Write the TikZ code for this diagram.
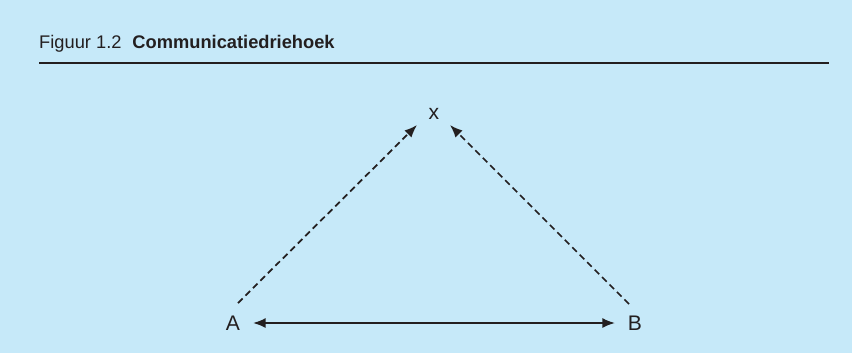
\documentclass[tikz,border=0pt]{standalone}
\usepackage{fontspec}
\setmainfont{Liberation Sans}
\usepackage{xcolor}
\usetikzlibrary{arrows.meta}
\definecolor{bgblue}{RGB}{198,233,249}
\definecolor{inkgray}{RGB}{35,31,32}
\tikzset{
    label/.style={inner sep=0pt, text=inkgray, font=\fontsize{18}{20}\selectfont},
    solidarrow/.style={inkgray, line width=1.5pt, {Latex[length=0.38cm,width=0.3cm]}-{Latex[length=0.38cm,width=0.3cm]}},
    dasharrow/.style={inkgray, line width=1.5pt, dash pattern=on 5.5pt off 3.5pt, -{Latex[length=0.38cm,width=0.3cm]}}
}

\begin{document}
\begin{tikzpicture}[x=0.03cm, y=-0.03cm]
    % Draw background
    \path[fill=bgblue] (0,0) rectangle (852,353);

    % Title and rule
    \node[anchor=base west, inner sep=0pt, text=inkgray, font=\fontsize{15.6}{17}\selectfont] (title) at (39,48.5)
        {Figuur 1.2\hspace{0.6em}\textbf{Communicatiedriehoek}};
    \draw[inkgray, line width=2.2pt] (39,63) -- (829,63);

    % Corners of the triangle
    \node[label] (x) at (434,114) {x};
    \node[label] (A) at (233,323) {A};
    \node[label] (B) at (635,323) {B};

    % Solid arrow between A and B
    \draw[solidarrow, shorten <=0.6cm, shorten >=0.6cm] (A.center) -- (B.center);

    % Dashed arrows to x
    \draw[dasharrow] ([shift={(5,-20)}]A.center) -- ([shift={(-17,11)}]x.center);
    \draw[dasharrow] ([shift={(-6,-19)}]B.center) -- ([shift={(16,11)}]x.center);
\end{tikzpicture}
\end{document}
